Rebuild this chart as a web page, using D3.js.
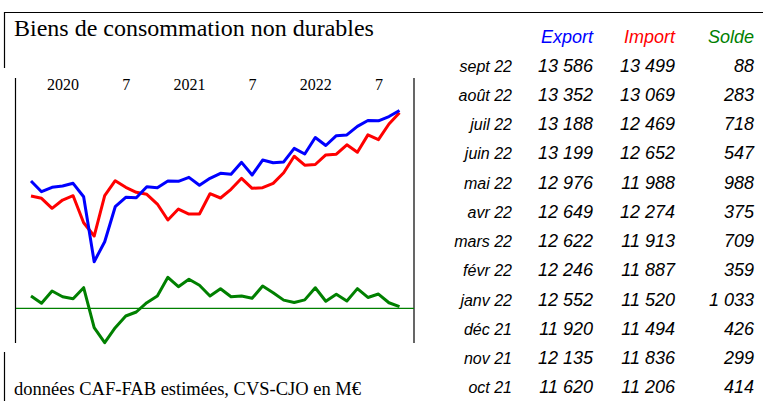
<!DOCTYPE html>
<html>
<head>
<meta charset="utf-8">
<script src="https://cdn.jsdelivr.net/npm/d3@7"></script>
<style>
  body { margin: 0; background: #fff; }
</style>
</head>
<body>
<script>
// months shown on the chart (oct 2019 -> sept 2022)
let months = ["oct 19","nov 19","déc 19","janv 20","févr 20","mars 20","avr 20","mai 20","juin 20","juil 20","août 20","sept 20",
  "oct 20","nov 20","déc 20","janv 21","févr 21","mars 21","avr 21","mai 21","juin 21","juil 21","août 21","sept 21",
  "oct 21","nov 21","déc 21","janv 22","févr 22","mars 22","avr 22","mai 22","juin 22","juil 22","août 22","sept 22"];

let exportVals = [10889,10480,10648,10698,10801,10289,7806,8570,9907,10266,10251,10671,
  10633,10889,10877,11030,10725,10992,11183,11145,11603,11118,11691,11588,
  11620,12135,11920,12552,12246,12622,12649,12976,13199,13188,13352,13586];

let importVals = [10316,10228,9846,10163,10327,9296,8788,10327,10900,10648,10457,10381,
  10010,9399,9819,9628,9628,10404,10240,10572,10992,10610,10633,10801,
  11206,11836,11494,11520,11887,11913,12274,11988,12652,12469,13069,13499];

let soldeVals = [620,255,870,585,485,1035,-965,-1715,-965,-380,-180,285,
  620,1555,1085,1455,1155,620,985,585,620,505,1120,785,
  414,299,426,1033,359,709,375,988,547,718,283,88];

// x axis labels (janv / juil)
let tickMonths = ["janv 20","juil 20","janv 21","juil 21","janv 22","juil 22"];
let tickLabels = ["2020","7","2021","7","2022","7"];

let headers = ["Export","Import","Solde"];
let headerColors = ["#0000ff","#ff0000","#008000"];

let width = 763, height = 401;

let svg = d3.select("body")
  .append("svg")
  .attr("width", width)
  .attr("height", height)
  .style("font-family", "'Liberation Serif', 'Times New Roman', serif");

// scales (solde on its own axis)
let x = d3.scalePoint().domain(months).range([31, 399.5]);
let y = d3.scaleLinear().domain([7000, 14000]).range([282.8, 99.6]);
let y2 = d3.scaleLinear().domain([-2000, 2000]).range([348.4, 268.4]);

// frame lines
let frame = svg.append("g").attr("stroke", "#000").attr("stroke-width", 1.2);
frame.append("line").attr("x1", 4).attr("x2", width).attr("y1", 12.5).attr("y2", 12.5);
frame.append("line").attr("x1", 4.5).attr("x2", 4.5).attr("y1", 12).attr("y2", 68);
frame.append("line").attr("x1", 15.5).attr("x2", 15.5).attr("y1", 78).attr("y2", 343);
frame.append("line").attr("x1", 414).attr("x2", 414).attr("y1", 78).attr("y2", 343);
frame.append("line").attr("x1", 4.5).attr("x2", 4.5).attr("y1", 352).attr("y2", height);

// title and footnote
svg.append("text")
  .attr("x", 14).attr("y", 36)
  .style("font-size", "24px")
  .text("Biens de consommation non durables");

svg.append("text")
  .attr("x", 14).attr("y", 395)
  .style("font-size", "18.5px")
  .text("données CAF-FAB estimées, CVS-CJO en M€");

// x labels on top
let xAxis = d3.axisTop(x)
  .tickValues(tickMonths)
  .tickFormat((d, i) => tickLabels[i])
  .tickSize(0);
let gx = svg.append("g").attr("transform", "translate(0,90)").call(xAxis);
gx.select(".domain").remove();
gx.selectAll("text")
  .attr("y", 0)
  .style("font-family", "'Liberation Serif', 'Times New Roman', serif")
  .style("font-size", "16px")
  .attr("fill", "#000");

// zero line for solde
svg.append("line")
  .attr("x1", 16).attr("x2", 414)
  .attr("y1", y2(0)).attr("y2", y2(0))
  .attr("stroke", "#008000").attr("stroke-width", 1.3);

let line = d3.line().x((d, i) => x(months[i])).y(d => y(d));
let line2 = d3.line().x((d, i) => x(months[i])).y(d => y2(d));

svg.append("path").attr("d", line(importVals))
  .attr("fill", "none").attr("stroke", "#ff0000").attr("stroke-width", 3).attr("stroke-linejoin", "round");
svg.append("path").attr("d", line(exportVals))
  .attr("fill", "none").attr("stroke", "#0000ff").attr("stroke-width", 3).attr("stroke-linejoin", "round");
svg.append("path").attr("d", line2(soldeVals))
  .attr("fill", "none").attr("stroke", "#008000").attr("stroke-width", 3).attr("stroke-linejoin", "round");

// table with last 12 months
let fr = d3.formatLocale({ decimal: ",", thousands: "\u00a0", grouping: [3], currency: ["", ""] });
let fmt = fr.format(",d");

let rowY = d3.scaleLinear().domain([0, 12]).range([42.5, 393.4]);
let colX = [593, 675, 754];

let table = svg.append("g")
  .style("font-family", "'Liberation Sans', Arial, sans-serif")
  .style("font-style", "italic")
  .attr("text-anchor", "end");

table.selectAll(".hdr").data(headers).enter()
  .append("text")
  .attr("class", "hdr")
  .attr("x", (d, i) => colX[i])
  .attr("y", rowY(0))
  .attr("fill", (d, i) => headerColors[i])
  .style("font-size", "18px")
  .text(d => d);

let last = d3.range(months.length - 1, months.length - 13, -1);

let rows = table.selectAll(".row").data(last).enter()
  .append("g")
  .attr("class", "row")
  .attr("transform", (d, i) => `translate(0,${rowY(i + 1)})`);

rows.append("text").attr("x", 512).style("font-size", "16px").text(d => months[d]);
rows.append("text").attr("x", colX[0]).style("font-size", "18px").text(d => fmt(exportVals[d]));
rows.append("text").attr("x", colX[1]).style("font-size", "18px").text(d => fmt(importVals[d]));
rows.append("text").attr("x", colX[2]).style("font-size", "18px").text(d => fmt(soldeVals[d]));
</script>
</body>
</html>
